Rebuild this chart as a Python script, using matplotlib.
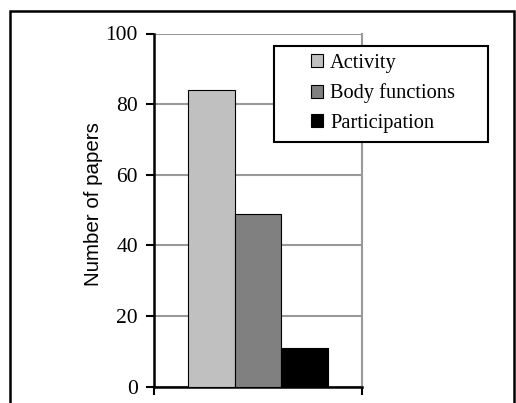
import matplotlib
matplotlib.use("Agg")
import matplotlib.pyplot as plt
from matplotlib.patches import Rectangle

categories = ["Activity", "Body functions", "Participation"]
values = [84, 49, 11]
colors = ["#C0C0C0", "#808080", "#000000"]
yticks = [0, 20, 40, 60, 80, 100]

W, H = 516, 403
fig = plt.figure(figsize=(W / 100, H / 100), dpi=100)
ax = fig.add_axes([154 / W, 1 - 386.7 / H, (362 - 154) / W, (386.7 - 33.5) / H])

bw = 0.2235
offsets = [-bw, 0, bw]
handles = []
for cat, v, c, o in zip(categories, values, colors, offsets):
    h = ax.bar(o, v, width=bw, color=c, edgecolor="black", linewidth=0.8, label=cat, zorder=3)
    handles.append(h)

ax.set_xlim(-0.5, 0.5)
ax.set_ylim(0, 100)
ax.set_yticks(yticks)
ax.set_yticklabels([str(t) for t in yticks], fontfamily="Liberation Serif", fontsize=15.5)
ax.set_xticks([-0.5, 0.5])
ax.set_xticklabels(["", ""])
ax.tick_params(axis="y", direction="out", length=6, width=1.5, pad=5.5)
ax.tick_params(axis="x", direction="out", length=6, width=1.5)
ax.yaxis.grid(True, color="#999999", linewidth=1.5, zorder=0)
ax.set_axisbelow(True)
for s in ["left", "bottom"]:
    ax.spines[s].set_color("black")
    ax.spines[s].set_linewidth(1.8)
ax.spines["right"].set_color("#999999")
ax.spines["right"].set_linewidth(1.5)
ax.spines["top"].set_visible(False)
ax.set_ylabel("Number of papers", fontfamily="Liberation Sans", fontsize=14.8)
ax.yaxis.set_label_coords(-0.244, 0.517)

# legend box
fig.patches.append(Rectangle((274.3 / W, 1 - 142.3 / H), (488.3 - 274.3) / W, (142.3 - 45.7) / H,
                             transform=fig.transFigure, facecolor="white",
                             edgecolor="black", linewidth=1.5, zorder=4))
leg = fig.legend(handles=handles, labels=categories, loc="center left",
                 bbox_to_anchor=(311 / W, 1 - 93.5 / H), bbox_transform=fig.transFigure,
                 prop={"family": "Liberation Serif", "size": 14.7},
                 frameon=False, handlelength=0.6, handleheight=0.6, handletextpad=0.34,
                 borderpad=0, labelspacing=0.52, borderaxespad=0)
leg.set_zorder(5)

fig.patches.append(Rectangle((10 / W, -0.1), (514 - 10) / W, 1.1 - 11 / H,
                             transform=fig.transFigure, fill=False,
                             edgecolor="black", linewidth=1.8))

fig.savefig("out.png", dpi=100)
